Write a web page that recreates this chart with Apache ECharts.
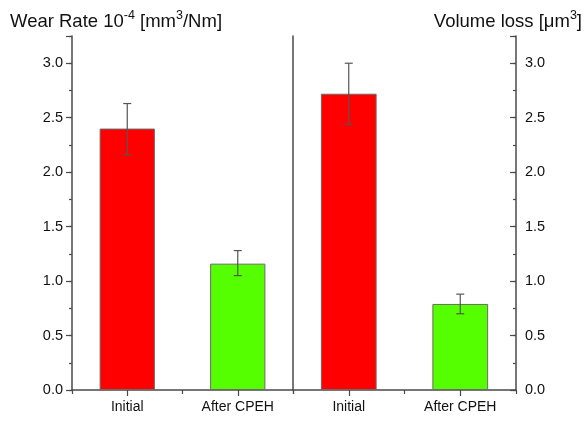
<!DOCTYPE html>
<html><head><meta charset="utf-8">
<script src="https://cdn.jsdelivr.net/npm/echarts@6/dist/echarts.min.js"></script>
<style>html,body{margin:0;padding:0;background:#fff}#c{width:587px;height:421px}</style>
</head><body><div id="c"></div>
<script>
const categories = ['Initial', 'After CPEH'];
const wearRate = [2.40, 1.16];
const wearErrLow = [2.16, 1.05];
const wearErrHigh = [2.63, 1.28];
const volumeLoss = [2.72, 0.79];
const volErrLow = [2.44, 0.70];
const volErrHigh = [3.00, 0.88];
const yTicks = [0, 0.5, 1.0, 1.5, 2.0, 2.5, 3.0];
const barColors = ['#ff0000', '#55ff00'];

const AX = '#4a4a4a';
const FONT = 'Liberation Sans, Arial, sans-serif';
const chart = echarts.init(document.getElementById('c'), null, {renderer: 'canvas'});

function mainY(grid, pos, inside) {
  return {
    type: 'value', gridIndex: grid, position: pos, min: 0, max: 3.25, interval: 0.5,
    axisLine: {show: true, lineStyle: {color: AX, width: 1.5}},
    axisTick: {show: true, inside: inside, length: 6, lineStyle: {color: AX, width: 1.2}},
    axisLabel: {show: true, margin: 9, color: '#111', fontFamily: FONT, fontSize: 14.5,
      formatter: v => yTicks.indexOf(v) >= 0 ? v.toFixed(1) : ''},
    splitLine: {show: false}
  };
}
function minorY(grid, pos, inside) {
  return {
    type: 'value', gridIndex: grid, position: pos, min: 0, max: 3.25, interval: 0.25,
    axisLine: {show: false}, axisLabel: {show: false}, splitLine: {show: false},
    axisTick: {show: true, inside: inside, length: 3, lineStyle: {color: AX, width: 1.2}}
  };
}
function xMain(grid) {
  return {
    type: 'category', gridIndex: grid, data: categories, position: 'bottom',
    axisLine: {show: true, lineStyle: {color: AX, width: 1.5}},
    axisTick: {show: true, alignWithLabel: true, length: 6, lineStyle: {color: AX, width: 1.2}},
    axisLabel: {color: '#111', fontFamily: FONT, fontSize: 14, margin: 10}
  };
}
function xMinor(grid) {
  return {
    type: 'category', gridIndex: grid, data: categories, position: 'bottom',
    axisLine: {show: false}, axisLabel: {show: false},
    axisTick: {show: true, alignWithLabel: false, length: 4, lineStyle: {color: AX, width: 1.2}}
  };
}
function errSeries(xi, yi, lows, highs) {
  return {
    type: 'custom', xAxisIndex: xi, yAxisIndex: yi, z: 10,
    data: categories.map((c, i) => [i, lows[i], highs[i]]),
    renderItem: function (params, api) {
      const lo = api.coord([api.value(0), api.value(1)]);
      const hi = api.coord([api.value(0), api.value(2)]);
      const w = 4;
      const st = {stroke: '#555', lineWidth: 1.2};
      return {type: 'group', children: [
        {type: 'line', shape: {x1: hi[0], y1: hi[1], x2: lo[0], y2: lo[1]}, style: st},
        {type: 'line', shape: {x1: hi[0] - w, y1: hi[1], x2: hi[0] + w, y2: hi[1]}, style: st},
        {type: 'line', shape: {x1: lo[0] - w, y1: lo[1], x2: lo[0] + w, y2: lo[1]}, style: st}
      ]};
    }
  };
}
function barSeries(xi, yi, vals) {
  return {
    type: 'bar', xAxisIndex: xi, yAxisIndex: yi, barWidth: '50%',
    data: vals.map((v, i) => ({value: v, itemStyle: {color: barColors[i]}})),
    itemStyle: {borderColor: '#6a6a6a', borderWidth: 1}
  };
}

const rich = {
  a: {fontSize: 18.5, fontFamily: FONT, fontWeight: 'normal', color: '#111', lineHeight: 22, verticalAlign: 'bottom'},
  s: {fontSize: 12.5, fontFamily: FONT, fontWeight: 'normal', color: '#111', lineHeight: 22, verticalAlign: 'top'}
};

chart.setOption({
  animation: false,
  backgroundColor: '#fff',
  title: [
    {left: 5, top: 4, text: '{a|Wear Rate 10}{s|-4}{a| [mm}{s|3}{a|/Nm]}', textStyle: {fontWeight: 'normal', rich: rich}},
    {right: 0, top: 4, text: '{a|Volume loss [μm}{s|3}{a|]}', textStyle: {fontWeight: 'normal', rich: rich}}
  ],
  grid: [
    {left: 72, right: 294, top: 36, bottom: 31},
    {left: 293, right: 71, top: 36, bottom: 31}
  ],
  xAxis: [xMain(0), xMinor(0), xMain(1), xMinor(1)],
  yAxis: [
    mainY(0, 'left', false), minorY(0, 'left', false),
    {type: 'value', gridIndex: 0, position: 'right', min: 0, max: 3.25,
      axisLine: {show: true, lineStyle: {color: AX, width: 1.5}}, axisTick: {show: false},
      axisLabel: {show: false}, splitLine: {show: false}},
    mainY(1, 'right', true), minorY(1, 'right', true)
  ],
  series: [
    barSeries(0, 0, wearRate),
    errSeries(0, 0, wearErrLow, wearErrHigh),
    barSeries(2, 3, volumeLoss),
    errSeries(2, 3, volErrLow, volErrHigh)
  ]
});
</script></body></html>
